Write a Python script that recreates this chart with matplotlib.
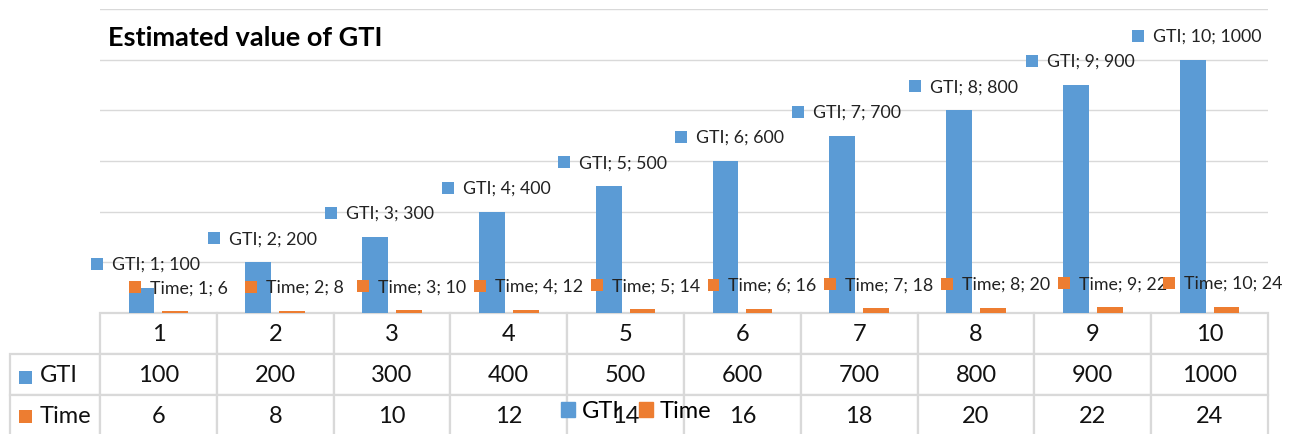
import matplotlib
matplotlib.use("Agg")
import matplotlib.pyplot as plt
from matplotlib.patches import Rectangle, Patch
from matplotlib.offsetbox import AnnotationBbox, HPacker, TextArea, DrawingArea

# data
categories = [1, 2, 3, 4, 5, 6, 7, 8, 9, 10]
gti = [100, 200, 300, 400, 500, 600, 700, 800, 900, 1000]
time_vals = [6, 8, 10, 12, 14, 16, 18, 20, 22, 24]
series_names = ["GTI", "Time"]

blue = "#5B9BD5"
orange = "#ED7D31"
grid_col = "#D9D9D9"

plt.rcParams["font.family"] = ["Lato", "DejaVu Sans"]

W, H = 1290, 435
fig = plt.figure(figsize=(W / 100, H / 100), dpi=100)
ax = fig.add_axes([100 / W, 1 - 314 / H, 1168 / W, 304 / H])

x = list(range(1, len(categories) + 1))
off = 0.145
bw = 0.22
ax.bar([i - off for i in x], gti, width=bw, color=blue, zorder=2)
ax.bar([i + off for i in x], time_vals, width=bw, color=orange, zorder=2)

ax.set_xlim(0.5, len(categories) + 0.5)
ax.set_ylim(0, 1200)
ax.set_yticks(range(0, 1201, 200))
ax.yaxis.grid(True, color=grid_col, linewidth=1.0, zorder=0)
ax.set_axisbelow(True)
ax.tick_params(left=False, bottom=False, labelleft=False, labelbottom=False)
for s in ax.spines.values():
    s.set_visible(False)

# data labels with legend key
def add_label(xpos, val, name, cat, color, dx):
    da = DrawingArea(8.6, 8.6, 0, 0)
    da.add_artist(Rectangle((0, 0), 8.6, 8.6, facecolor=color, edgecolor="none"))
    ta = TextArea(f"{name}; {cat}; {val}", textprops=dict(fontsize=12.8, color="#222222"))
    box = HPacker(children=[da, ta], align="center", pad=0, sep=6.5)
    ab = AnnotationBbox(box, (xpos, val), xybox=(dx, 17.3), xycoords="data",
                        boxcoords="offset points", frameon=False,
                        box_alignment=(0.5, 0.5), zorder=5)
    ax.add_artist(ab)

for i, c in enumerate(categories):
    add_label(x[i] - off, gti[i], series_names[0], c, blue, 3)
for i, c in enumerate(categories):
    add_label(x[i] + off, time_vals[i], series_names[1], c, orange, 2 if i < len(categories) - 1 else -3)

# data table
cell_text = [[""] + [str(c) for c in categories],
             [series_names[0]] + [str(v) for v in gti],
             [series_names[1]] + [str(v) for v in time_vals]]
col_w = [90] + [116.8] * len(categories)
tbl = ax.table(cellText=cell_text, colWidths=[w / sum(col_w) for w in col_w],
               cellLoc="center", bbox=[-90 / 1168, -123 / 304, 1258 / 1168, 123 / 304])
tbl.auto_set_font_size(False)
for (r, c), cell in tbl.get_celld().items():
    cell.set_edgecolor(grid_col)
    cell.set_linewidth(1.6)
    cell.get_text().set_fontsize(17)
    cell.get_text().set_color("#111111")
    if c == 0:
        cell.PAD = 0.33
        cell.get_text().set_ha("left")
        cell._loc = "left"
tbl[(0, 0)].set_edgecolor("none")

# legend keys in row label cells
for yy, col in [(385, blue), (424, orange)]:
    ax.add_patch(Rectangle((-81 / 1168, (314 - yy) / 304), 13 / 1168, 13 / 304,
                           transform=ax.transAxes, facecolor=col, edgecolor="none",
                           clip_on=False, zorder=6))

fig.legend(handles=[Patch(color=blue, label=series_names[0]),
                    Patch(color=orange, label=series_names[1])],
           loc="center", bbox_to_anchor=(636 / W, 1 - 412 / H), ncol=2,
           frameon=False, fontsize=17, handlelength=0.6, handleheight=0.6,
           handletextpad=0.3, columnspacing=0.8, borderpad=0)

fig.text(108 / W, 1 - 38 / H, "Estimated value of GTI", fontsize=19.5,
         fontweight="bold", va="center", ha="left")

fig.savefig("out.png", dpi=100)
